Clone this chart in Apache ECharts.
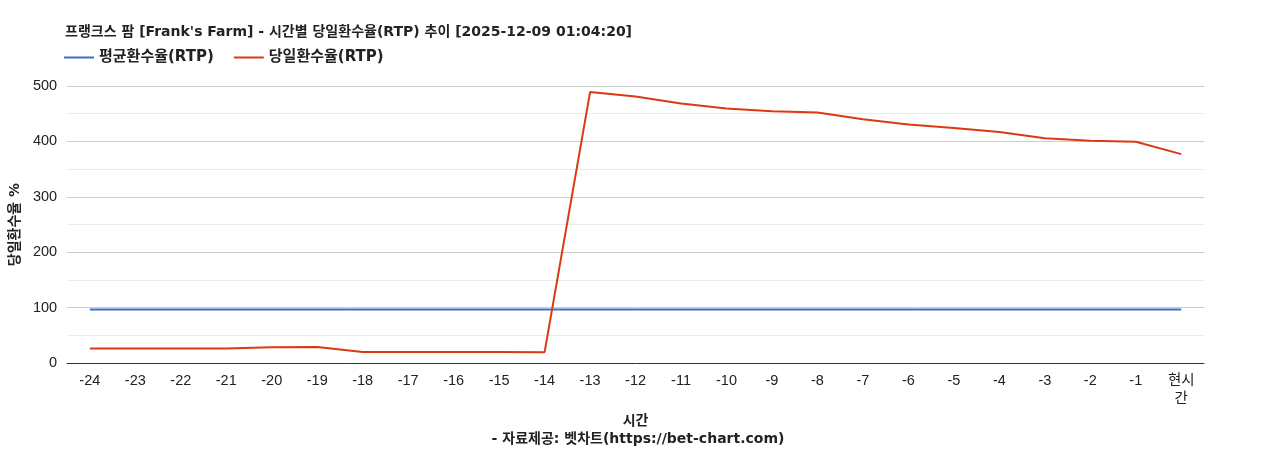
<!DOCTYPE html>
<html>
<head>
<meta charset="utf-8">
<title>프랭크스 팜 RTP</title>
<script src="https://cdn.jsdelivr.net/npm/echarts@6/dist/echarts.min.js"></script>
<style>
    html, body { margin: 0; padding: 0; background: #fff; }
    #main { width: 1268px; height: 450px; }
</style>
</head>
<body>
<div id="main"></div>
<script type="text/javascript">
    // 시간 (x축)
    var hours = ['-24', '-23', '-22', '-21', '-20', '-19', '-18', '-17', '-16', '-15', '-14', '-13',
        '-12', '-11', '-10', '-9', '-8', '-7', '-6', '-5', '-4', '-3', '-2', '-1', '현시\n간'];
    // 평균환수율
    var avgRtp = [96.5, 96.5, 96.5, 96.5, 96.5, 96.5, 96.5, 96.5, 96.5, 96.5, 96.5, 96.5,
        96.5, 96.5, 96.5, 96.5, 96.5, 96.5, 96.5, 96.5, 96.5, 96.5, 96.5, 96.5, 96.5];
    // 당일환수율
    var dayRtp = [26, 26, 26, 26, 28.5, 28.7, 20, 20, 20, 20, 19.5, 489,
        481, 468.5, 459.5, 454.5, 452, 440, 430.5, 424, 417, 405.5, 401, 399.5, 377];
    var yTicks = [0, 100, 200, 300, 400, 500];

    var font = 'Arial, "Liberation Sans", "Noto Sans CJK KR", sans-serif';
    var boldFont = '"DejaVu Sans", "Noto Sans CJK KR", sans-serif';
    var myChart = echarts.init(document.getElementById('main'));
    var option = {
        animation: false,
        textStyle: { fontFamily: font },
        title: [{
            text: '프랭크스 팜 [Frank\'s Farm] - 시간별 당일환수율(RTP) 추이 [2025-12-09 01:04:20]',
            left: 60,
            top: 20,
            textStyle: { fontSize: 14, fontWeight: 'bold', color: '#222', fontFamily: boldFont }
        }, {
            text: '- 자료제공: 벳차트(https://bet-chart.com)',
            left: 633,
            textAlign: 'center',
            top: 427,
            textStyle: { fontSize: 14, fontWeight: 'bold', color: '#222', fontFamily: boldFont }
        }],
        legend: {
            left: 59,
            top: 45,
            itemWidth: 30,
            itemHeight: 10,
            itemGap: 20,
            icon: 'path://M0,4 L30,4 L30,6 L0,6 Z',
            textStyle: { fontSize: 15, fontWeight: 'bold', color: '#222', fontFamily: boldFont },
            data: ['평균환수율(RTP)', '당일환수율(RTP)']
        },
        grid: { left: 64, right: 64, top: 86, bottom: 87, containLabel: false },
        xAxis: {
            type: 'category',
            data: hours,
            boundaryGap: true,
            name: '시간',
            nameLocation: 'middle',
            nameGap: 51,
            nameTextStyle: { fontSize: 14, fontWeight: 'bold', color: '#222', fontFamily: boldFont },
            axisLine: { lineStyle: { color: '#333', width: 1 } },
            axisTick: { show: false },
            axisLabel: { fontSize: 14.5, color: '#222', margin: 9, interval: 0, lineHeight: 18 }
        },
        yAxis: {
            type: 'value',
            min: yTicks[0],
            max: yTicks[yTicks.length - 1],
            interval: 100,
            name: '당일환수율 %',
            nameLocation: 'middle',
            nameGap: 42,
            nameTextStyle: { fontSize: 14, fontWeight: 'bold', color: '#222', fontFamily: boldFont },
            axisLine: { show: false },
            axisTick: { show: false },
            axisLabel: { fontSize: 14.5, color: '#222', margin: 10 },
            splitLine: { lineStyle: { color: '#cccccc', width: 1 } },
            minorTick: { show: false, splitNumber: 2 },
            minorSplitLine: { show: true, lineStyle: { color: '#ebebeb', width: 1 } }
        },
        series: [{
            name: '평균환수율(RTP)',
            type: 'line',
            data: avgRtp,
            symbol: 'none',
            itemStyle: { color: '#3b6fd6' },
            lineStyle: { color: '#3b6fd6', width: 2 }
        }, {
            name: '당일환수율(RTP)',
            type: 'line',
            data: dayRtp,
            symbol: 'none',
            itemStyle: { color: '#dc3912' },
            lineStyle: { color: '#dc3912', width: 2 }
        }]
    };
    myChart.setOption(option);
</script>
</body>
</html>
